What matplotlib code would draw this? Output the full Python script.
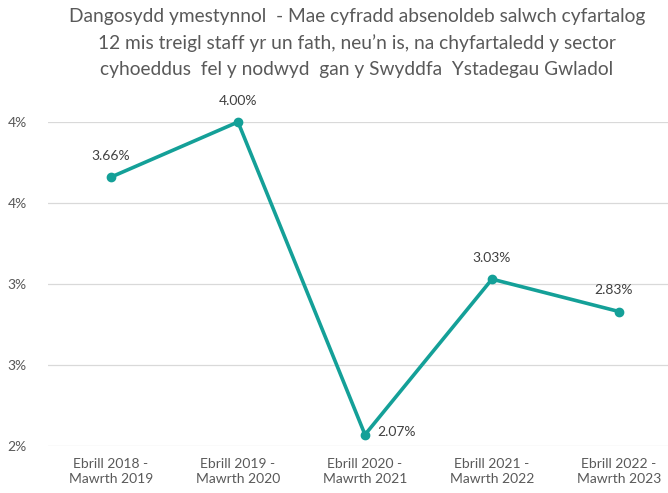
import matplotlib
matplotlib.use("Agg")
import matplotlib.pyplot as plt

categories = ["Ebrill 2018 -\nMawrth 2019", "Ebrill 2019 -\nMawrth 2020",
              "Ebrill 2020 -\nMawrth 2021", "Ebrill 2021 -\nMawrth 2022",
              "Ebrill 2022 -\nMawrth 2023"]
values = [3.66, 4.00, 2.07, 3.03, 2.83]
yticks = [2.0, 2.5, 3.0, 3.5, 4.0]
ytick_labels = ["2%", "3%", "3%", "4%", "4%"]
title = ("Dangosydd ymestynnol  - Mae cyfradd absenoldeb salwch cyfartalog\n"
         "12 mis treigl staff yr un fath, neu\u2019n is, na chyfartaledd y sector\n"
         "cyhoeddus  fel y nodwyd  gan y Swyddfa  Ystadegau Gwladol")

plt.rcParams['font.family'] = ['Lato', 'DejaVu Sans']
txt = '#595959'
teal = '#14A098'

fig = plt.figure(figsize=(6.68, 4.93), dpi=100)
ax = fig.add_axes([47.5/668, 1-446/493, (668-47.5)/668, (446-122)/493])
x = list(range(len(categories)))
ax.plot(x, values, color=teal, lw=2.6, marker='o', ms=6, clip_on=False, zorder=3)
ax.set_xlim(-0.5, 4.5 - 14.5/127)
ax.set_ylim(2.0, 4.0)
ax.set_yticks(yticks)
ax.set_yticklabels(ytick_labels)
ax.set_xticks(x)
ax.set_xticklabels(categories)
ax.grid(axis='y', color='#d9d9d9', lw=0.9)
ax.set_axisbelow(True)
for s in ax.spines.values():
    s.set_visible(False)
ax.tick_params(length=0, colors=txt, labelsize=10)
ax.tick_params(axis='y', pad=15)
ax.tick_params(axis='x', pad=9)
for lab in ax.get_xticklabels():
    lab.set_linespacing(1.25)

offsets = [(0, 11, 'center', 'bottom'), (0, 11, 'center', 'bottom'),
           (9, 2, 'left', 'center'), (0, 11, 'center', 'bottom'),
           (-4, 11, 'center', 'bottom')]
for xi, v, (dx, dy, ha, va) in zip(x, values, offsets):
    ax.annotate(f"{v:.2f}%", (xi, v), xytext=(dx, dy), textcoords='offset points',
                ha=ha, va=va, color='#404040', fontsize=10)

fig.text(357/668, 1-8/493, title, ha='center', va='top', color=txt,
         fontsize=13.8, linespacing=1.62)

fig.savefig("out.png", dpi=100)
